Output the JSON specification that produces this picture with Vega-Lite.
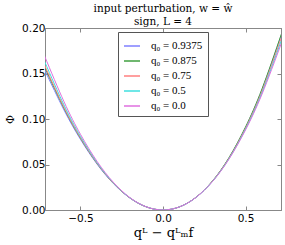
{
  "$schema": "https://vega.github.io/schema/vega-lite/v6.json",
  "autosize": {"type": "none"},
  "padding": {"left": 45, "top": 28, "right": 4, "bottom": 35},
  "width": 236,
  "height": 182,
  "title": {
    "text": ["input perturbation, w = ŵ", "sign, L = 4"],
    "font": "DejaVu Serif",
    "fontSize": 10.5,
    "fontWeight": "normal",
    "lineHeight": 13,
    "offset": -4,
    "anchor": "middle",
    "color": "black"
  },
  "data": {
    "values": [
      {"x": -0.72, "phi": 0.15503, "q0": "0.9375"},
      {"x": -0.6, "phi": 0.10991, "q0": "0.9375"},
      {"x": -0.5, "phi": 0.07763, "q0": "0.9375"},
      {"x": -0.4, "phi": 0.05051, "q0": "0.9375"},
      {"x": -0.3, "phi": 0.02889, "q0": "0.9375"},
      {"x": -0.2, "phi": 0.01304, "q0": "0.9375"},
      {"x": -0.1, "phi": 0.00332, "q0": "0.9375"},
      {"x": 0.0, "phi": 0.0, "q0": "0.9375"},
      {"x": 0.1, "phi": 0.00342, "q0": "0.9375"},
      {"x": 0.2, "phi": 0.01388, "q0": "0.9375"},
      {"x": 0.3, "phi": 0.03169, "q0": "0.9375"},
      {"x": 0.4, "phi": 0.05717, "q0": "0.9375"},
      {"x": 0.5, "phi": 0.09063, "q0": "0.9375"},
      {"x": 0.6, "phi": 0.13237, "q0": "0.9375"},
      {"x": 0.72, "phi": 0.19385, "q0": "0.9375"},

      {"x": -0.72, "phi": 0.1581, "q0": "0.875"},
      {"x": -0.6, "phi": 0.11191, "q0": "0.875"},
      {"x": -0.5, "phi": 0.07895, "q0": "0.875"},
      {"x": -0.4, "phi": 0.05131, "q0": "0.875"},
      {"x": -0.3, "phi": 0.02931, "q0": "0.875"},
      {"x": -0.2, "phi": 0.01323, "q0": "0.875"},
      {"x": -0.1, "phi": 0.00335, "q0": "0.875"},
      {"x": 0.0, "phi": 0.0, "q0": "0.875"},
      {"x": 0.1, "phi": 0.00345, "q0": "0.875"},
      {"x": 0.2, "phi": 0.01401, "q0": "0.875"},
      {"x": 0.3, "phi": 0.03197, "q0": "0.875"},
      {"x": 0.4, "phi": 0.05761, "q0": "0.875"},
      {"x": 0.5, "phi": 0.09125, "q0": "0.875"},
      {"x": 0.6, "phi": 0.13317, "q0": "0.875"},
      {"x": 0.72, "phi": 0.19482, "q0": "0.875"},

      {"x": -0.72, "phi": 0.16013, "q0": "0.75"},
      {"x": -0.6, "phi": 0.11296, "q0": "0.75"},
      {"x": -0.5, "phi": 0.07947, "q0": "0.75"},
      {"x": -0.4, "phi": 0.05152, "q0": "0.75"},
      {"x": -0.3, "phi": 0.02935, "q0": "0.75"},
      {"x": -0.2, "phi": 0.01321, "q0": "0.75"},
      {"x": -0.1, "phi": 0.00334, "q0": "0.75"},
      {"x": 0.0, "phi": 0.0, "q0": "0.75"},
      {"x": 0.1, "phi": 0.00342, "q0": "0.75"},
      {"x": 0.2, "phi": 0.01387, "q0": "0.75"},
      {"x": 0.3, "phi": 0.03157, "q0": "0.75"},
      {"x": 0.4, "phi": 0.05676, "q0": "0.75"},
      {"x": 0.5, "phi": 0.08973, "q0": "0.75"},
      {"x": 0.6, "phi": 0.13068, "q0": "0.75"},
      {"x": 0.72, "phi": 0.19073, "q0": "0.75"},

      {"x": -0.72, "phi": 0.16418, "q0": "0.5"},
      {"x": -0.6, "phi": 0.11538, "q0": "0.5"},
      {"x": -0.5, "phi": 0.08091, "q0": "0.5"},
      {"x": -0.4, "phi": 0.05228, "q0": "0.5"},
      {"x": -0.3, "phi": 0.0297, "q0": "0.5"},
      {"x": -0.2, "phi": 0.01333, "q0": "0.5"},
      {"x": -0.1, "phi": 0.00336, "q0": "0.5"},
      {"x": 0.0, "phi": 0.0, "q0": "0.5"},
      {"x": 0.1, "phi": 0.00342, "q0": "0.5"},
      {"x": 0.2, "phi": 0.01383, "q0": "0.5"},
      {"x": 0.3, "phi": 0.0314, "q0": "0.5"},
      {"x": 0.4, "phi": 0.05632, "q0": "0.5"},
      {"x": 0.5, "phi": 0.08879, "q0": "0.5"},
      {"x": 0.6, "phi": 0.12898, "q0": "0.5"},
      {"x": 0.72, "phi": 0.1877, "q0": "0.5"},

      {"x": -0.72, "phi": 0.17028, "q0": "0.0"},
      {"x": -0.6, "phi": 0.11908, "q0": "0.0"},
      {"x": -0.5, "phi": 0.08318, "q0": "0.0"},
      {"x": -0.4, "phi": 0.05354, "q0": "0.0"},
      {"x": -0.3, "phi": 0.03029, "q0": "0.0"},
      {"x": -0.2, "phi": 0.01354, "q0": "0.0"},
      {"x": -0.1, "phi": 0.0034, "q0": "0.0"},
      {"x": 0.0, "phi": 0.0, "q0": "0.0"},
      {"x": 0.1, "phi": 0.00344, "q0": "0.0"},
      {"x": 0.2, "phi": 0.01384, "q0": "0.0"},
      {"x": 0.3, "phi": 0.03133, "q0": "0.0"},
      {"x": 0.4, "phi": 0.056, "q0": "0.0"},
      {"x": 0.5, "phi": 0.08798, "q0": "0.0"},
      {"x": 0.6, "phi": 0.12738, "q0": "0.0"},
      {"x": 0.72, "phi": 0.18462, "q0": "0.0"}
    ]
  },
  "layer": [
    {
      "mark": {"type": "line", "opacity": 0, "clip": true},
      "encoding": {
        "x": {
          "field": "x", "type": "quantitative",
          "scale": {"domain": [-0.715, 0.715], "nice": false, "zero": false},
          "axis": {"orient": "top", "values": [-0.5, 0, 0.5], "labels": false, "title": null,
                   "tickSize": -4, "tickColor": "#888", "domainColor": "#888", "grid": false}
        },
        "y": {
          "field": "phi", "type": "quantitative",
          "scale": {"domain": [0, 0.2], "nice": false},
          "axis": {"orient": "right", "values": [0, 0.05, 0.1, 0.15, 0.2], "labels": false, "title": null,
                   "tickSize": -4, "tickColor": "#888", "domainColor": "#888", "grid": false}
        },
        "detail": {"field": "q0"}
      }
    },
    {
      "mark": {"type": "line", "interpolate": "natural", "clip": true, "strokeWidth": 1},
      "encoding": {
        "x": {
          "field": "x", "type": "quantitative",
          "scale": {"domain": [-0.715, 0.715], "nice": false, "zero": false},
          "axis": {
            "orient": "bottom",
            "title": "qᴸ − qᴸₘf",
            "titleFont": "DejaVu Serif", "titleFontSize": 13, "titleFontWeight": "normal",
            "titleColor": "black", "titlePadding": 3,
            "values": [-0.5, 0, 0.5], "format": ".1f",
            "labelFont": "DejaVu Sans", "labelFontSize": 10.5, "labelColor": "black",
            "tickSize": -4, "tickColor": "#888", "labelPadding": 7,
            "domainColor": "#888", "grid": false
          }
        },
        "y": {
          "field": "phi", "type": "quantitative",
          "scale": {"domain": [0, 0.2], "nice": false},
          "axis": {
            "orient": "left",
            "title": "Φ",
            "titleFont": "DejaVu Serif", "titleFontSize": 11, "titleFontWeight": "normal",
            "titleColor": "black", "titlePadding": 6,
            "values": [0, 0.05, 0.1, 0.15, 0.2], "format": ".2f",
            "labelFont": "DejaVu Sans", "labelFontSize": 10.5, "labelColor": "black",
            "tickSize": -4, "tickColor": "#888", "labelPadding": 4,
            "domainColor": "#888", "grid": false
          }
        },
        "color": {
          "field": "q0", "type": "nominal",
          "scale": {
            "domain": ["0.9375", "0.875", "0.75", "0.5", "0.0"],
            "range": ["#7f7fff", "#3f9f3f", "#ff7f7f", "#3fdfdf", "#df6fdf"]
          },
          "legend": {
            "title": null,
            "orient": "none",
            "legendX": 73,
            "legendY": 4,
            "labelExpr": "'q₀ = ' + datum.label",
            "labelFont": "Liberation Serif",
            "labelFontSize": 11,
            "labelColor": "black",
            "labelOffset": 10,
            "symbolType": "stroke",
            "symbolSize": 256,
            "symbolStrokeWidth": 1.5,
            "rowPadding": 1,
            "padding": 5,
            "strokeColor": "#555",
            "fillColor": "white"
          }
        },
        "order": {"field": "q0", "sort": "descending"}
      }
    }
  ],
  "resolve": {"axis": {"x": "independent", "y": "independent"}},
  "config": {
    "view": {"stroke": "#888"},
    "axis": {"domainWidth": 1}
  }
}
